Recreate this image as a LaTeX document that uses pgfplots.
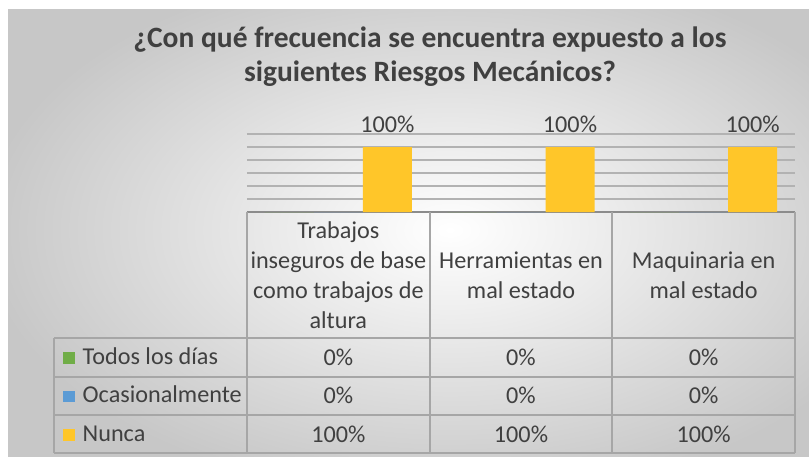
\documentclass[border=0pt]{standalone}
\usepackage{pgfplots}
\pgfplotsset{compat=1.18}
\usepackage{pgfplotstable}
\usepackage{fontspec}
\setmainfont{Carlito}
\definecolor{txt}{HTML}{404040}
\definecolor{cTodos}{HTML}{70AD47}
\definecolor{cOcas}{HTML}{5B9BD5}
\definecolor{cNunca}{HTML}{FFC629}
\definecolor{rule}{HTML}{A6A6A6}

% porcentaje por riesgo (x = categoria)
\pgfplotstableread{
x todos ocas nunca
0 0 0 100
1 0 0 100
2 0 0 100
}\riesgos

\newcommand\cellfont{\fontsize{24.2}{30}\selectfont}

\begin{document}
\begin{tikzpicture}[x=1pt,y=1pt]
\useasboundingbox (0,0) rectangle (809,-461);
\begin{scope}
  \clip (8,-9) rectangle (809,-456);
  \shade[inner color=white, outer color=black!22] (-20,40) rectangle (920,-500);
\end{scope}
\begin{axis}[
  at={(247pt,-212pt)}, anchor=south west,
  scale only axis, width=548pt, height=78pt,
  xmin=-0.5, xmax=2.5, ymin=0, ymax=120,
  xtick={0,1,2},
  xticklabels={{Trabajos\\inseguros de base\\como trabajos de\\altura},{Herramientas en\\mal estado},{Maquinaria en\\mal estado}},
  xticklabel style={align=center, anchor=center, yshift=-63pt},
  ytick={0,20,...,120}, yticklabels={},
  ymajorgrids, grid style={black!30, line width=1.3pt},
  major tick length=0pt,
  axis x line*=bottom, axis y line*=left,
  x axis line style={black!45, line width=2.5pt},
  y axis line style={draw=none},
  clip=false,
  /pgf/number format/assume math mode=true,
  every tick label/.append style={font=\cellfont, text=txt},
  title={¿Con qué frecuencia se encuentra expuesto a los\\siguientes Riesgos Mecánicos?},
  title style={font=\fontsize{29.5}{34}\selectfont\bfseries, text=txt, align=center,
    at={(axis description cs:0.334,1)}, anchor=center, yshift=71pt},
  legend style={at={(axis description cs:-0.3522,-1.6154)}, anchor=north west,
    draw=none, fill=none, inner xsep=9pt, inner ysep=0pt, row sep=0pt, column sep=8pt,
    font=\cellfont, text=txt,
    nodes={inner sep=0pt, text height=26pt, text depth=12.5pt}},
  legend cell align=left,
  legend image code/.code={\fill[#1, draw=none] (0pt,-6.5pt) rectangle (11.5pt,5pt);},
]
\addplot[ybar, bar width=49pt, bar shift=-49pt, fill=cTodos, draw=none]
  table[x=x, y=todos]{\riesgos};
\addplot[ybar, bar width=49pt, bar shift=0pt, fill=cOcas, draw=none]
  table[x=x, y=ocas]{\riesgos};
\addplot[ybar, bar width=49pt, bar shift=49pt, fill=cNunca, draw=none,
  nodes near coords={\pgfmathprintnumber{\pgfplotspointmeta}\%},
  every node near coord/.append style={font=\cellfont, text=txt, anchor=south,
    xshift=49pt, yshift=11pt}]
  table[x=x, y=nunca]{\riesgos};
\legend{Todos los días, Ocasionalmente, Nunca}

% valores de la tabla de datos
\addplot[draw=none, mark=none, point meta=explicit,
  nodes near coords={\pgfmathprintnumber{\pgfplotspointmeta}\%},
  every node near coord/.append style={anchor=center, font=\cellfont, text=txt}]
  table[x=x, y expr=-223.1, meta=todos]{\riesgos};
\addplot[draw=none, mark=none, point meta=explicit,
  nodes near coords={\pgfmathprintnumber{\pgfplotspointmeta}\%},
  every node near coord/.append style={anchor=center, font=\cellfont, text=txt}]
  table[x=x, y expr=-282.3, meta=ocas]{\riesgos};
\addplot[draw=none, mark=none, point meta=explicit,
  nodes near coords={\pgfmathprintnumber{\pgfplotspointmeta}\%},
  every node near coord/.append style={anchor=center, font=\cellfont, text=txt}]
  table[x=x, y expr=-341.5, meta=nunca]{\riesgos};
\end{axis}
% rejilla de la tabla de datos
\begin{scope}[rule, line width=2pt]
  \foreach \yy in {338,376.5,415,453} \draw (54,-\yy) -- (795,-\yy);
  \draw (54,-338) -- (54,-453);
  \foreach \xx in {247,429.7,612.3,795} \draw (\xx,-212) -- (\xx,-453);
\end{scope}
\end{tikzpicture}
\end{document}
